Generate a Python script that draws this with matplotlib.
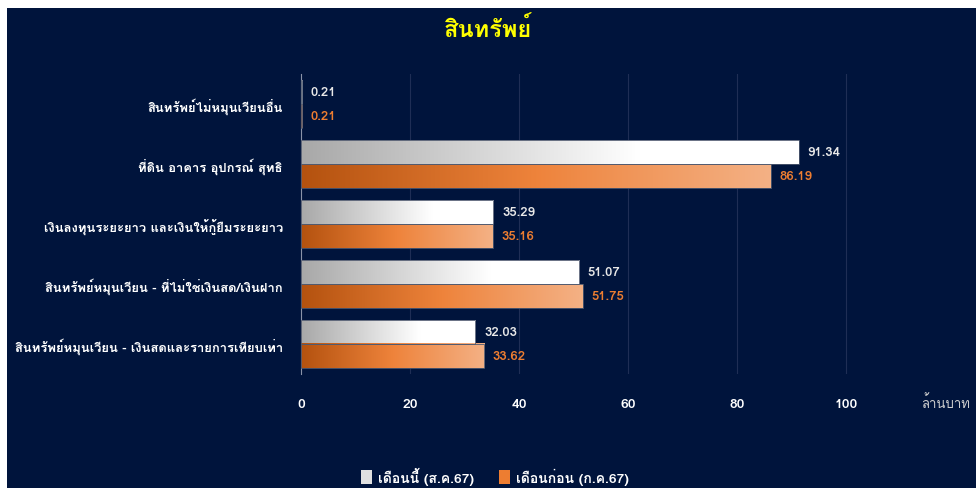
import numpy as np
import matplotlib
matplotlib.use("Agg")
import matplotlib.pyplot as plt
from matplotlib import font_manager, ft2font
from matplotlib.colors import LinearSegmentedColormap
from matplotlib.patches import Patch, Rectangle

# data, top to bottom
categories = [
    "สินทรัพย์ไม่หมุนเวียนอื่น",
    "ที่ดิน อาคาร อุปกรณ์ สุทธิ",
    "เงินลงทุนระยะยาว และเงินให้กู้ยืมระยะยาว",
    "สินทรัพย์หมุนเวียน - ที่ไม่ใช่เงินสด/เงินฝาก",
    "สินทรัพย์หมุนเวียน - เงินสดและรายการเทียบเท่า",
]
this_month = [0.21, 91.34, 35.29, 51.07, 32.03]
last_month = [0.21, 86.19, 35.16, 51.75, 33.62]
series_names = ["เดือนนี้ (ส.ค.67)", "เดือนก่อน (ก.ค.67)"]
xticks = [0, 20, 40, 60, 80, 100]

# look for any installed font that has thai glyphs
thai_font = "DejaVu Sans"
for f in font_manager.fontManager.ttflist:
    try:
        if 0x0E2A in ft2font.FT2Font(f.fname).get_charmap():
            thai_font = f.name
            break
    except Exception:
        pass
plt.rcParams["font.family"] = [thai_font, "DejaVu Sans"]

navy = "#00143c"
orange = "#ed7d31"
white_cm = LinearSegmentedColormap.from_list("w", [(0, "#a8a8a8"), (0.68, "#ffffff"), (1, "#ffffff")])
orange_cm = LinearSegmentedColormap.from_list("o", [(0, "#b4520f"), (0.5, "#ee833b"), (1, "#f4b185")])

fig = plt.figure(figsize=(9.76, 4.89), dpi=100)
fig.patch.set_facecolor("white")
fig.add_artist(Rectangle((7 / 976, 0), 1, 1 - 9 / 489, transform=fig.transFigure,
                         facecolor=navy, edgecolor="none", zorder=0))

ax = fig.add_axes([301 / 976, 1 - 375 / 489, 675 / 976, 300 / 489])
ax.set_facecolor(navy)

grad = np.linspace(0, 1, 256).reshape(1, -1)
h = 0.4
y = np.arange(len(categories))
for i in y:
    for val, off, cm, col in [(this_month[i], -h, white_cm, "#e8e8e8"), (last_month[i], 0, orange_cm, orange)]:
        ax.imshow(grad, extent=(0, val, i + off, i + off + h), cmap=cm, aspect="auto", zorder=3)
        ax.barh(i + off + h / 2, val, height=h, facecolor="none", edgecolor="#505a70", lw=0.6, zorder=4)
        ax.text(val + 1.6, i + off + h / 2, f"{val:.2f}", color=col, fontsize=9.5,
                fontweight="bold", va="center", ha="left", zorder=5)

ax.set_xlim(0, 123.9)
ax.set_ylim(len(categories) - 0.5, -0.5)
ax.set_xticks(xticks)
ax.set_yticks(y)
ax.set_yticklabels(categories, fontsize=9.4, fontweight="bold", color="white")
ax.tick_params(axis="x", length=0, pad=17, labelcolor="white", labelsize=10)
ax.tick_params(axis="y", length=0, pad=13)
for lab in ax.get_xticklabels():
    lab.set_fontweight("bold")
ax.grid(axis="x", color="#1f2e55", lw=0.8, zorder=1)
for s in ["top", "right", "bottom"]:
    ax.spines[s].set_visible(False)
ax.spines["left"].set_color("#8a93a8")
ax.spines["left"].set_linewidth(0.8)

fig.text(0.5, 1 - 30 / 489, "สินทรัพย์", color="#ffff00", fontsize=17,
         fontweight="bold", ha="center", va="center")
fig.text(970 / 976, 1 - 403 / 489, "ล้านบาท", color="#d0d0d0", fontsize=9.5,
         ha="right", va="center")

handles = [Patch(facecolor="#e0e0e0", edgecolor="none"), Patch(facecolor=orange, edgecolor="none")]
leg = fig.legend(handles, series_names, loc="center", bbox_to_anchor=(0.507, 0.025), ncol=2,
                 frameon=False, handlelength=0.8, handleheight=1.1, handletextpad=0.4,
                 columnspacing=1.8, fontsize=10)
for t in leg.get_texts():
    t.set_color("white")
    t.set_fontweight("bold")

plt.savefig("out.png", dpi=100, facecolor=fig.get_facecolor())
